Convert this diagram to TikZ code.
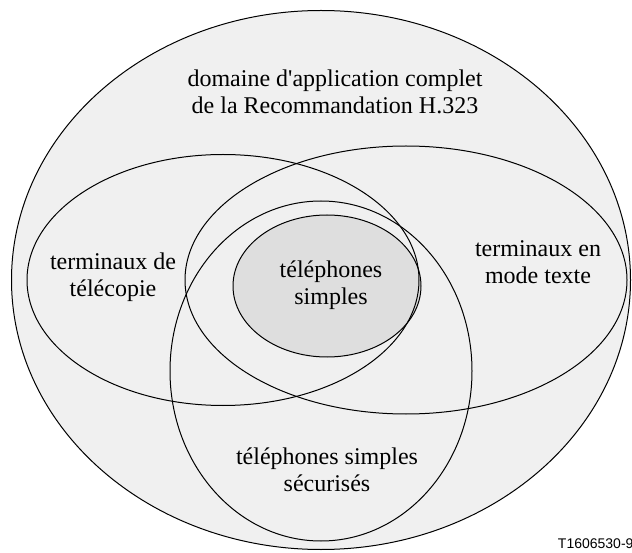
\documentclass[tikz,border=0pt]{standalone}
\usepackage{fontspec}
\setmainfont{Liberation Serif}
\newfontfamily\figsans{Liberation Sans}
\usetikzlibrary{shapes.geometric}
\definecolor{domainfill}{RGB}{240,240,240}
\definecolor{corefill}{RGB}{222,222,222}

\begin{document}
\begin{tikzpicture}[x=1pt,y=-1pt,
  setellipse/.style={ellipse,draw=black,line width=1pt,inner sep=0pt},
  setlabel/.style={align=center,font=\fontsize{24}{27}\selectfont}
]
\useasboundingbox (0,0) rectangle (632,553);

% sets, outer first
\node[setellipse,fill=domainfill,minimum width=619pt,minimum height=539pt] (domain) at (321,280) {};
\node[setellipse,fill=corefill,minimum width=188pt,minimum height=142pt] (core) at (327,286) {};
\node[setellipse,minimum width=392pt,minimum height=251pt] (fax) at (223,280) {};
\node[setellipse,minimum width=442pt,minimum height=268pt] (text) at (406,280) {};
\node[setellipse,minimum width=302pt,minimum height=340pt] (secure) at (321,371) {};

% labels
\node[setlabel] (domainlabel) at (335,92) {domaine d\textquotesingle application complet\\de la Recommandation H.323};
\node[setlabel] (faxlabel) at (113,277) {terminaux de\\télécopie};
\node[setlabel] (corelabel) at (331,285) {téléphones\\simples};
\node[setlabel] (textlabel) at (538,262) {terminaux en\\mode texte};
\node[setlabel] (securelabel) at (327,470) {téléphones simples\\sécurisés};

\node[font=\figsans\fontsize{14}{16}\selectfont,anchor=east] (figref) at (637,544) {T1606530-9};
\end{tikzpicture}
\end{document}
